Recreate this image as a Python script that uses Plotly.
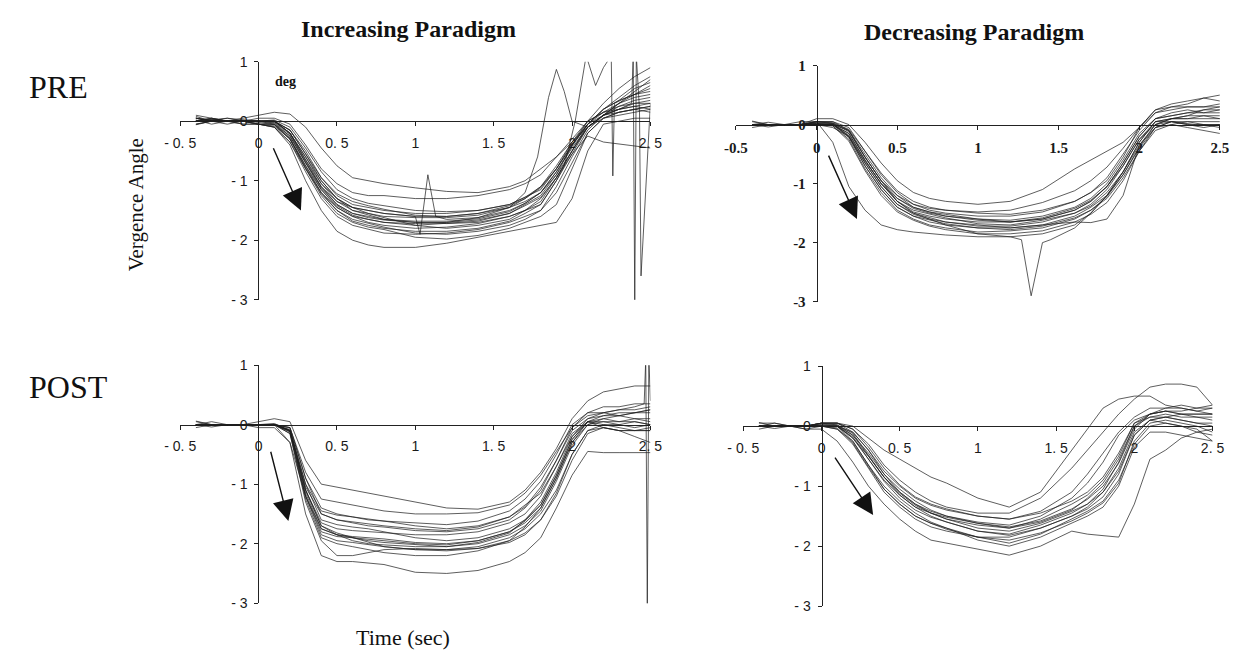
import plotly.graph_objects as go

# ---------------- data ----------------
t = [-0.4, -0.3, -0.2, -0.1, 0, 0.1, 0.2, 0.3, 0.4, 0.5, 0.6, 0.7, 0.8,
     1.0, 1.2, 1.4, 1.6, 1.7, 1.8, 1.9, 2.0, 2.1, 2.2, 2.3, 2.4, 2.5]

x_ticks = [-0.5, 0, 0.5, 1, 1.5, 2, 2.5]
x_labels_spaced = ["- 0. 5", "0", "0. 5", "1", "1. 5", "2", "2. 5"]
x_labels_plain = ["-0.5", "0", "0.5", "1", "1.5", "2", "2.5"]
y_ticks = [1, 0, -1, -2, -3]
y_labels_spaced = ["1", "0", "- 1", "- 2", "- 3"]
y_labels_plain = ["1", "0", "-1", "-2", "-3"]

# Increasing paradigm, PRE
inc_pre = [
    [0.1, 0.05, 0, 0.05, 0.1, 0.15, 0.12, -0.1, -0.45, -0.75, -0.95, -1.0, -1.05, -1.12, -1.18, -1.2, -1.1, -1.0, -0.8, -0.6, -0.35, -0.1, 0.1, 0.3, 0.45, 0.6],
    [0.05, 0, 0, 0, 0.05, 0.05, -0.05, -0.4, -0.8, -1.05, -1.2, -1.25, -1.25, -1.3, -1.3, -1.25, -1.15, -1.05, -0.9, -0.6, -0.3, 0, 0.15, 0.25, 0.3, 0.3],
    [0, 0, -0.05, 0, 0, 0, -0.15, -0.55, -1.0, -1.3, -1.45, -1.5, -1.55, -1.6, -1.6, -1.55, -1.45, -1.35, -1.2, -0.85, -0.45, -0.1, 0.1, 0.2, 0.25, 0.2],
    [-0.05, 0, 0, -0.05, -0.05, -0.05, -0.25, -0.7, -1.15, -1.45, -1.6, -1.65, -1.7, -1.75, -1.72, -1.68, -1.55, -1.4, -1.25, -0.9, -0.4, -0.05, 0.1, 0.15, 0.2, 0.15],
    [0, 0.05, 0, 0, -0.05, -0.1, -0.35, -0.85, -1.3, -1.6, -1.75, -1.82, -1.88, -1.9, -1.88, -1.82, -1.7, -1.6, -1.5, -1.1, -0.6, -0.15, 0.1, 0.2, 0.25, 0.3],
    [0.05, 0, 0, -0.05, -0.05, -0.1, -0.4, -1.0, -1.5, -1.85, -2.0, -2.08, -2.12, -2.12, -2.05, -1.95, -1.85, -1.8, -1.75, -1.7, -1.3, -0.5, -0.05, 0, 0.05, 0.05],
    [0, 0, 0.05, 0, 0, 0, -0.2, -0.6, -1.05, -1.35, -1.5, -1.55, -1.6, -1.62, -1.62, -1.58, -1.45, -1.3, -1.1, -0.8, -0.4, 0.0, 0.3, 0.55, 0.75, 0.9],
    [0.05, 0, 0, 0, -0.05, -0.05, -0.3, -0.75, -1.2, -1.5, -1.68, -1.75, -1.8, -1.85, -1.85, -1.8, -1.68, -1.55, -1.4, -1.0, -0.55, -0.1, 0.1, 0.25, 0.35, 0.4],
    [0, 0, 0, 0, 0, 0.02, -0.1, -0.45, -0.85, -1.15, -1.3, -1.38, -1.42, -1.5, -1.52, -1.5, -1.4, -1.28, -1.1, -0.75, -0.35, -0.05, 0.2, 0.4, 0.6, 0.75],
    [-0.05, 0, 0, 0, -0.05, -0.08, -0.3, -0.8, -1.25, -1.55, -1.7, -1.78, -1.82, -1.95, -1.98, -1.92, -1.8, -1.7, -1.6, -1.4, -0.8, -0.2, 0.05, 0.1, 0.15, 0.2],
    [0, 0.05, 0, 0, 0, 0, -0.2, -0.65, -1.1, -1.4, -1.55, -1.62, -1.66, -1.7, -1.7, -1.62, -1.5, -1.38, -1.2, -0.9, -0.5, -0.1, 0.1, 0.2, 0.3, 0.35],
    [0.05, 0, 0, 0, 0, -0.03, -0.25, -0.7, -1.1, -1.35, -1.45, -1.55, -1.62, -1.75, -1.8, -1.75, -1.65, -1.5, -1.35, -0.95, -0.5, -0.1, 0.05, 0.15, 0.2, 0.25],
    [0, 0, 0, 0, -0.05, -0.1, -0.35, -0.8, -1.2, -1.45, -1.6, -1.7, -1.75, -1.8, -1.78, -1.72, -1.6, -1.5, -1.3, -0.95, -0.55, -0.25, -0.35, -0.38, -0.42, -0.45],
    [0.08, 0, 0, 0, 0, -0.05, -0.28, -0.75, -1.15, -1.42, -1.58, -1.65, -1.7, -1.72, -1.7, -1.66, -1.55, -1.42, -1.28, -0.95, -0.5, -0.05, 0.2, 0.35, 0.45, 0.5],
    [0.02, -0.05, 0, 0, 0, -0.02, -0.22, -0.68, -1.12, -1.4, -1.55, -1.6, -1.65, -1.68, -1.68, -1.64, -1.52, -1.38, -1.2, -0.85, -0.42, -0.05, 0.15, 0.3, 0.4, 0.45],
    [-0.06, 0, 0, 0, -0.02, -0.06, -0.3, -0.78, -1.22, -1.5, -1.65, -1.72, -1.78, -1.88, -1.9, -1.85, -1.75, -1.65, -1.5, -1.2, -0.7, -0.2, 0.05, 0.15, 0.2, 0.25],
    [0, 0.04, 0, 0, 0, 0, -0.15, -0.55, -0.95, -1.22, -1.35, -1.42, -1.48, -1.58, -1.6, -1.55, -1.42, -1.3, -1.12, -0.8, -0.4, -0.05, 0.2, 0.35, 0.55, 0.65],
]
inc_pre_spike1_t = [-0.4, -0.2, 0, 0.1, 0.2, 0.3, 0.4, 0.5, 0.6, 0.8, 1.0, 1.03, 1.08, 1.13, 1.2, 1.4, 1.6, 1.7, 1.78, 1.85, 1.9, 1.95, 2.0, 2.1, 2.2, 2.3, 2.4, 2.5]
inc_pre_spike1_v = [0, 0, 0, 0, -0.2, -0.65, -1.05, -1.3, -1.45, -1.55, -1.6, -1.9, -0.9, -1.6, -1.65, -1.62, -1.45, -1.2, -0.6, 0.4, 0.87, 0.5, 0.0, -0.1, 0.1, 0.3, 0.5, 0.7]
inc_pre_spike2_t = [-0.4, -0.2, 0, 0.1, 0.2, 0.3, 0.4, 0.5, 0.6, 0.8, 1.0, 1.2, 1.4, 1.6, 1.8, 1.9, 1.95, 2.02, 2.09, 2.15, 2.2, 2.25, 2.26, 2.27, 2.35, 2.5]
inc_pre_spike2_v = [0, 0.05, 0, 0, -0.2, -0.6, -1.0, -1.3, -1.5, -1.65, -1.7, -1.72, -1.7, -1.6, -1.4, -1.0, -0.75, 0.0, 1.1, 0.6, 0.9, 1.1, -0.92, 0.3, 0.4, 0.55]
inc_pre_spike3_t = [-0.4, -0.2, 0, 0.1, 0.2, 0.3, 0.4, 0.5, 0.6, 0.8, 1.0, 1.2, 1.4, 1.6, 1.8, 1.9, 2.0, 2.1, 2.2, 2.3, 2.38, 2.39, 2.4, 2.41, 2.43, 2.44, 2.5]
inc_pre_spike3_v = [0.05, 0, 0, 0, -0.15, -0.5, -0.95, -1.25, -1.4, -1.5, -1.55, -1.55, -1.5, -1.4, -1.15, -0.8, -0.35, 0.0, 0.15, 0.2, 0.3, 1.1, -3.1, 1.1, 0.2, -2.6, 0.3]

# Decreasing paradigm, PRE
dec_pre = [
    [0.05, 0, 0, 0.05, 0.05, -0.3, -1.05, -1.45, -1.7, -1.78, -1.82, -1.85, -1.87, -1.9, -1.9, -1.85, -1.7, -1.5, -1.2, -0.8, -0.3, 0.05, 0.1, 0.15, 0.15, 0.1],
    [0, 0, 0, 0, 0.1, 0.1, 0.0, -0.3, -0.65, -0.95, -1.15, -1.25, -1.3, -1.35, -1.3, -1.1, -0.75, -0.6, -0.45, -0.3, -0.05, 0.2, 0.3, 0.35, 0.45, 0.5],
    [0, 0, 0, 0, 0.05, 0.05, -0.05, -0.45, -0.85, -1.15, -1.35, -1.45, -1.5, -1.55, -1.55, -1.48, -1.3, -1.15, -0.9, -0.5, -0.1, 0.2, 0.25, 0.3, 0.3, 0.35],
    [0, 0, 0, 0, 0, 0, -0.15, -0.6, -1.0, -1.3, -1.48, -1.55, -1.6, -1.65, -1.65, -1.6, -1.45, -1.3, -1.05, -0.65, -0.2, 0.1, 0.2, 0.25, 0.2, 0.25],
    [0, 0, 0, 0, 0, -0.05, -0.2, -0.7, -1.1, -1.4, -1.55, -1.65, -1.7, -1.75, -1.75, -1.7, -1.55, -1.4, -1.2, -0.85, -0.4, -0.05, 0.05, 0.05, 0.0, 0.0],
    [0, 0, 0, 0, 0.02, 0, -0.2, -0.65, -1.05, -1.35, -1.5, -1.58, -1.65, -1.7, -1.75, -1.7, -1.65, -1.66, -1.6, -1.2, -0.35, -0.05, 0.0, -0.05, -0.1, -0.15],
    [0, 0, 0, 0, 0.05, 0.02, -0.1, -0.5, -0.9, -1.2, -1.4, -1.48, -1.55, -1.6, -1.62, -1.55, -1.4, -1.25, -1.0, -0.6, -0.15, 0.1, 0.15, 0.2, 0.2, 0.2],
    [0, 0, 0, 0, 0, -0.02, -0.25, -0.75, -1.15, -1.45, -1.6, -1.7, -1.75, -1.82, -1.8, -1.75, -1.6, -1.45, -1.25, -0.9, -0.45, -0.1, 0.0, 0.05, 0.05, 0.05],
    [0, 0, 0, 0, 0.05, 0.05, -0.1, -0.55, -0.95, -1.2, -1.35, -1.42, -1.45, -1.5, -1.52, -1.45, -1.3, -1.15, -0.95, -0.55, -0.05, 0.25, 0.3, 0.3, 0.3, 0.3],
    [0, 0, 0, 0, 0, 0, -0.15, -0.6, -1.0, -1.3, -1.45, -1.52, -1.58, -1.68, -1.7, -1.62, -1.5, -1.35, -1.1, -0.7, -0.25, 0.05, 0.1, 0.1, 0.15, 0.15],
    [0, 0, 0, 0, 0.03, 0.02, -0.2, -0.65, -1.05, -1.35, -1.52, -1.6, -1.65, -1.72, -1.72, -1.65, -1.5, -1.38, -1.15, -0.8, -0.35, 0.0, 0.05, 0.0, 0.0, -0.05],
    [0, 0, 0, 0, 0, 0, -0.18, -0.62, -1.0, -1.25, -1.4, -1.48, -1.52, -1.6, -1.65, -1.6, -1.45, -1.3, -1.05, -0.7, -0.25, 0.0, 0.1, 0.15, 0.25, 0.3],
    [0.06, 0, 0, 0, 0.02, 0, -0.22, -0.7, -1.1, -1.4, -1.55, -1.62, -1.68, -1.75, -1.78, -1.72, -1.58, -1.45, -1.22, -0.85, -0.38, 0.0, 0.1, 0.1, 0.1, 0.1],
    [-0.05, 0, 0, 0, 0.03, 0.02, -0.12, -0.55, -0.95, -1.25, -1.42, -1.5, -1.55, -1.62, -1.65, -1.58, -1.42, -1.28, -1.05, -0.65, -0.2, 0.1, 0.15, 0.2, 0.25, 0.25],
    [0, 0.04, 0, 0, 0, -0.02, -0.28, -0.78, -1.2, -1.48, -1.62, -1.72, -1.78, -1.85, -1.85, -1.8, -1.65, -1.52, -1.32, -0.95, -0.45, -0.05, 0.05, 0.0, -0.05, 0.0],
    [0, -0.04, 0, 0, 0.05, 0.03, -0.08, -0.45, -0.82, -1.12, -1.3, -1.4, -1.45, -1.48, -1.45, -1.32, -1.12, -0.95, -0.72, -0.4, -0.05, 0.25, 0.35, 0.4, 0.45, 0.4],
]
dec_pre_dip_t = [-0.4, -0.2, 0, 0.1, 0.2, 0.3, 0.4, 0.5, 0.6, 0.8, 1.0, 1.2, 1.27, 1.33, 1.4, 1.45, 1.6, 1.7, 1.8, 1.9, 2.0, 2.1, 2.2, 2.35, 2.5]
dec_pre_dip_v = [0, 0, 0, 0, -0.1, -0.55, -0.95, -1.3, -1.5, -1.7, -1.85, -1.9, -1.95, -2.9, -2.0, -1.95, -1.75, -1.5, -1.2, -0.8, -0.3, 0.05, 0.05, 0.0, 0.0]

# Increasing paradigm, POST
inc_post = [
    [0.05, 0, 0, 0, 0.05, 0.1, 0.05, -0.6, -1.0, -1.05, -1.1, -1.15, -1.2, -1.3, -1.4, -1.42, -1.3, -1.1, -0.8, -0.4, 0.1, 0.4, 0.55, 0.6, 0.65, 0.65],
    [0, 0, 0, 0, 0, 0, -0.05, -0.8, -1.25, -1.3, -1.35, -1.4, -1.45, -1.5, -1.5, -1.48, -1.35, -1.15, -0.85, -0.45, -0.05, 0.2, 0.3, 0.3, 0.35, 0.35],
    [0, 0, 0, 0, 0, 0, -0.3, -1.5, -2.2, -2.3, -2.3, -2.32, -2.35, -2.48, -2.5, -2.45, -2.3, -2.15, -1.9, -1.4, -0.85, -0.45, -0.47, -0.47, -0.47, -0.47],
    [0, 0, 0, 0, 0, 0, -0.1, -1.1, -1.65, -1.75, -1.78, -1.8, -1.82, -1.85, -1.85, -1.8, -1.65, -1.5, -1.2, -0.7, -0.15, 0.05, 0.0, 0.0, 0.05, 0.0],
    [0, 0, 0, 0, 0, 0, -0.12, -1.2, -1.8, -1.88, -1.9, -1.95, -1.98, -2.02, -2.05, -2.0, -1.85, -1.7, -1.45, -0.95, -0.35, 0.0, 0.05, 0.0, -0.05, 0.0],
    [0, 0, 0, 0, 0, 0, -0.08, -1.0, -1.6, -1.68, -1.72, -1.75, -1.8, -1.9, -1.95, -1.9, -1.75, -1.6, -1.35, -0.85, -0.25, 0.05, 0.1, 0.15, 0.2, 0.25],
    [0, 0, 0, 0, 0, 0.02, -0.1, -1.1, -1.7, -1.82, -1.9, -1.98, -2.05, -2.1, -2.1, -2.05, -1.9, -1.75, -1.5, -1.1, -0.5, -0.1, -0.05, -0.1, -0.1, -0.05],
    [0, 0, 0, 0, 0, 0, -0.05, -0.9, -1.4, -1.5, -1.55, -1.6, -1.62, -1.65, -1.68, -1.62, -1.45, -1.25, -0.95, -0.5, 0.0, 0.2, 0.2, 0.25, 0.25, 0.3],
    [0, 0, 0, 0, 0, 0, -0.15, -1.3, -1.95, -2.2, -2.2, -2.15, -2.1, -2.08, -2.1, -2.08, -1.98, -1.85, -1.6, -1.15, -0.5, -0.1, 0.0, -0.05, -0.1, -0.1],
    [0, 0, 0, 0, -0.05, -0.05, -0.3, -1.2, -1.75, -1.85, -1.9, -1.92, -1.95, -2.0, -2.02, -1.95, -1.8, -1.65, -1.4, -0.9, -0.3, 0.0, 0.1, 0.05, 0.05, 0.0],
    [0, 0, 0, 0, 0, 0, -0.1, -1.05, -1.5, -1.6, -1.65, -1.7, -1.72, -1.78, -1.8, -1.75, -1.6, -1.4, -1.1, -0.6, -0.1, 0.1, 0.15, 0.15, 0.1, 0.1],
    [0, 0, 0, 0, 0, 0, -0.1, -1.1, -1.7, -1.85, -1.95, -2.0, -2.02, -2.05, -2.05, -1.98, -1.82, -1.6, -1.3, -0.8, -0.2, 0.05, -0.05, -0.1, -0.2, -0.3],
    [0.06, 0, 0, 0, 0, 0, -0.1, -1.15, -1.75, -1.85, -1.88, -1.9, -1.92, -1.98, -2.0, -1.95, -1.8, -1.62, -1.35, -0.85, -0.25, 0.05, 0.05, 0.05, 0.1, 0.05],
    [-0.05, 0, 0, 0, 0, 0, -0.1, -1.0, -1.45, -1.52, -1.55, -1.58, -1.62, -1.7, -1.75, -1.7, -1.55, -1.38, -1.05, -0.6, -0.05, 0.15, 0.2, 0.15, 0.2, 0.2],
    [0, 0.05, 0, 0, 0, 0, -0.12, -1.2, -1.85, -1.95, -1.98, -2.02, -2.05, -2.1, -2.12, -2.08, -1.95, -1.82, -1.6, -1.2, -0.6, -0.15, -0.05, -0.1, -0.1, -0.1],
    [0, -0.04, 0, 0, 0, 0, -0.15, -1.25, -1.9, -2.0, -2.05, -2.1, -2.15, -2.2, -2.2, -2.12, -1.95, -1.72, -1.4, -0.9, -0.3, 0.05, 0.15, 0.2, 0.2, 0.25],
]
inc_post_spike_t = [-0.4, -0.2, 0, 0.1, 0.2, 0.3, 0.4, 0.5, 0.8, 1.0, 1.2, 1.4, 1.6, 1.8, 1.9, 2.0, 2.1, 2.2, 2.3, 2.4, 2.46, 2.47, 2.48, 2.49, 2.5]
inc_post_spike_v = [0, 0, 0, 0, -0.05, -0.9, -1.5, -1.6, -1.7, -1.75, -1.78, -1.72, -1.55, -1.15, -0.7, -0.2, 0.1, 0.2, 0.25, 0.3, 0.35, 1.1, -3.05, 1.1, 0.4]

# Decreasing paradigm, POST
dec_post = [
    [0.05, 0.05, 0, 0, 0.05, 0.05, 0, -0.2, -0.4, -0.55, -0.7, -0.85, -0.95, -1.2, -1.35, -1.1, -0.4, -0.05, 0.3, 0.45, 0.5, 0.5, 0.35, 0.3, 0.25, 0.2],
    [0, 0, 0, -0.05, -0.05, -0.25, -0.6, -1.0, -1.3, -1.55, -1.75, -1.9, -1.95, -2.05, -2.15, -2.0, -1.75, -1.8, -1.82, -1.85, -1.3, -0.55, -0.4, -0.2, -0.1, -0.05],
    [0, 0, 0, 0, 0.05, 0.02, -0.15, -0.45, -0.8, -1.05, -1.25, -1.4, -1.5, -1.6, -1.65, -1.5, -1.2, -0.95, -0.6, -0.15, 0.1, 0.2, 0.25, 0.2, 0.2, 0.2],
    [0, 0, 0, 0, 0, 0, -0.2, -0.55, -0.9, -1.15, -1.35, -1.5, -1.6, -1.75, -1.8, -1.65, -1.45, -1.3, -1.05, -0.6, 0.0, 0.15, 0.2, 0.15, 0.15, 0.1],
    [0, 0, 0, 0, 0.05, 0.05, -0.1, -0.4, -0.75, -1.0, -1.2, -1.32, -1.4, -1.5, -1.55, -1.45, -1.25, -1.1, -0.85, -0.45, 0.05, 0.2, 0.25, 0.25, 0.3, 0.35],
    [0, 0, 0, 0, 0, -0.05, -0.3, -0.7, -1.1, -1.35, -1.55, -1.68, -1.75, -1.85, -1.85, -1.7, -1.5, -1.35, -1.1, -0.7, -0.1, 0.1, 0.05, 0.0, -0.1, -0.15],
    [0, 0, 0, 0, 0, 0, -0.2, -0.5, -0.85, -1.1, -1.3, -1.42, -1.5, -1.62, -1.7, -1.6, -1.4, -1.2, -0.95, -0.55, 0.0, 0.2, 0.3, 0.3, 0.25, 0.3],
    [0, 0, 0, 0, 0, -0.05, -0.25, -0.65, -1.0, -1.25, -1.45, -1.6, -1.7, -1.85, -1.95, -1.8, -1.55, -1.42, -1.25, -0.9, -0.3, 0.0, 0.05, 0.0, -0.05, -0.25],
    [0, 0, 0, 0, 0.05, 0.05, -0.05, -0.3, -0.65, -0.9, -1.1, -1.25, -1.35, -1.45, -1.45, -1.2, -0.7, -0.4, -0.1, 0.2, 0.45, 0.65, 0.7, 0.7, 0.65, 0.35],
    [0, 0, 0, 0, 0, 0, -0.15, -0.5, -0.85, -1.15, -1.35, -1.45, -1.55, -1.7, -1.75, -1.62, -1.42, -1.3, -1.1, -0.75, -0.15, 0.1, 0.15, 0.1, 0.05, 0.0],
    [0, 0, 0, 0, 0.02, 0, -0.25, -0.65, -1.05, -1.3, -1.5, -1.62, -1.7, -1.9, -2.0, -1.85, -1.62, -1.5, -1.35, -1.0, -0.35, -0.1, -0.1, -0.15, -0.2, -0.25],
    [0, 0, 0, 0, 0, 0, -0.1, -0.4, -0.8, -1.1, -1.3, -1.45, -1.55, -1.65, -1.7, -1.55, -1.3, -1.15, -0.9, -0.5, 0.05, 0.15, 0.15, 0.2, 0.15, 0.15],
    [0.06, 0, 0, 0, 0, 0, -0.18, -0.55, -0.92, -1.2, -1.4, -1.52, -1.6, -1.75, -1.82, -1.7, -1.5, -1.38, -1.18, -0.8, -0.15, 0.1, 0.15, 0.1, 0.05, 0.05],
    [-0.05, 0, 0, 0, 0.03, 0.02, -0.12, -0.48, -0.85, -1.12, -1.32, -1.45, -1.52, -1.62, -1.68, -1.58, -1.38, -1.22, -1.0, -0.62, -0.05, 0.2, 0.25, 0.2, 0.2, 0.2],
    [0, 0.05, 0, -0.05, 0, -0.03, -0.28, -0.68, -1.05, -1.3, -1.5, -1.62, -1.72, -1.85, -1.9, -1.78, -1.58, -1.45, -1.28, -0.95, -0.25, 0.05, 0.1, 0.05, 0.0, -0.1],
    [0, -0.04, 0, 0, 0.05, 0.05, -0.05, -0.35, -0.7, -0.98, -1.18, -1.3, -1.38, -1.5, -1.55, -1.42, -1.1, -0.8, -0.45, -0.1, 0.15, 0.3, 0.3, 0.35, 0.3, 0.3],
]

# arrows: (tail x, tail y, head x, head y) per panel
arrow_tl = [0.09, -0.43, 0.27, -1.5]
arrow_tr = [0.07, -0.5, 0.25, -1.6]
arrow_bl = [0.075, -0.43, 0.19, -1.62]
arrow_br = [0.08, -0.5, 0.33, -1.48]

# ---------------- layout geometry (pixels in a 1248x660 page) ----------------
W, H = 1248, 660
def px(x):
    return x / W
def py(y):
    return 1 - y / H

LINE = dict(color="rgba(30,30,30,0.8)", width=0.9)
fig = go.Figure()

panels = [
    ("", inc_pre, [(inc_pre_spike1_t, inc_pre_spike1_v), (inc_pre_spike2_t, inc_pre_spike2_v), (inc_pre_spike3_t, inc_pre_spike3_v)],
     (168, 649), (55, 299), 248, 116, False, arrow_tl),
    ("2", dec_pre, [(dec_pre_dip_t, dec_pre_dip_v)],
     (736.5, 1231.5), (59, 301), 819, 119.5, True, arrow_tr),
    ("3", inc_post, [(inc_post_spike_t, inc_post_spike_v)],
     (168, 649), (366, 610), 248, 427, False, arrow_bl),
    ("4", dec_post, [],
     (744, 1224), (367, 613), 824, 428.5, False, arrow_br),
]

sans = dict(family="Liberation Sans, Arial, sans-serif", size=14, color="#1a1a1a")
serif_b = dict(family="Liberation Serif, Times New Roman, serif", size=15, color="#1a1a1a", weight="bold")

annotations = []
for suf, data, extras, xd, yd, yax_x, xax_y, serif, arr in panels:
    xa = "x" + suf
    ya = "y" + suf
    for series in data:
        fig.add_trace(go.Scatter(x=t, y=series, mode="lines", line=LINE,
                                 xaxis=xa, yaxis=ya, showlegend=False, hoverinfo="skip"))
    for ex_t, ex_v in extras:
        fig.add_trace(go.Scatter(x=ex_t, y=ex_v, mode="lines", line=LINE,
                                 xaxis=xa, yaxis=ya, showlegend=False, hoverinfo="skip"))
    font = serif_b if serif else sans
    xlab = x_labels_plain if serif else x_labels_spaced
    ylab = y_labels_plain if serif else y_labels_spaced
    xkey = "xaxis" + suf
    ykey = "yaxis" + suf
    fig.update_layout({
        xkey: dict(domain=[px(xd[0]), px(xd[1])], anchor="free", position=py(xax_y),
                   range=[-0.5, 2.5], tickmode="array", tickvals=x_ticks, ticktext=xlab,
                   showline=True, linecolor="#222", linewidth=1, ticks="outside",
                   ticklen=4, tickcolor="#222", tickwidth=1, showgrid=False, zeroline=False,
                   tickfont=font, layer="below traces", ticklabelstandoff=5, fixedrange=True),
        ykey: dict(domain=[py(yd[1]), py(yd[0])], anchor="free", position=px(yax_x),
                   range=[-3, 1], tickmode="array", tickvals=y_ticks, ticktext=ylab,
                   showline=True, linecolor="#222", linewidth=1, ticks="outside",
                   ticklen=4, tickcolor="#222", tickwidth=1, showgrid=False, zeroline=False,
                   tickfont=font, layer="below traces", ticklabelstandoff=4, fixedrange=True),
    })
    annotations.append(dict(x=arr[2], y=arr[3], ax=arr[0], ay=arr[1], xref=xa, yref=ya,
                            axref=xa, ayref=ya, showarrow=True, arrowhead=2, arrowsize=3,
                            arrowwidth=1.4, arrowcolor="#111", text=""))

serif = "Liberation Serif, Times New Roman, serif"
def label(text, x, y, size, bold=False, xanchor="center", angle=0):
    f = dict(family=serif, size=size, color="#111")
    if bold:
        f["weight"] = "bold"
    return dict(text=text, x=px(x), y=py(y), xref="paper", yref="paper", showarrow=False,
                xanchor=xanchor, yanchor="middle", font=f, textangle=angle)

annotations += [
    label("Increasing Paradigm", 401, 22, 24, bold=True),
    label("Decreasing Paradigm", 980, 25, 24, bold=True),
    label("PRE", 11, 81, 32, xanchor="left"),
    label("POST", 11, 388, 32, xanchor="left"),
    label("Vergence Angle", 123, 202, 21, angle=-90),
    label("deg", 276, 75, 14, bold=True),
    label("Time (sec)", 396, 645, 22),
]

fig.update_layout(width=W, height=H, margin=dict(l=0, r=0, t=0, b=0),
                  paper_bgcolor="white", plot_bgcolor="rgba(0,0,0,0)",
                  annotations=annotations, hovermode=False, showlegend=False)

fig.write_html("out.html")
